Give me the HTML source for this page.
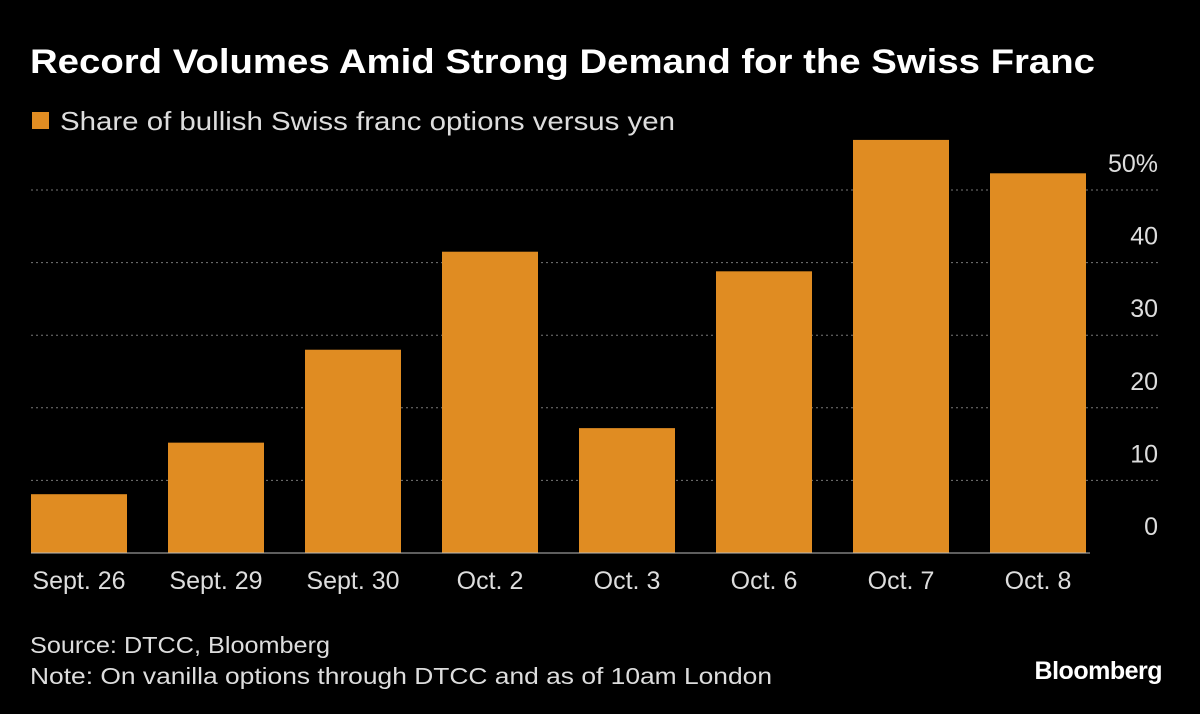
<!DOCTYPE html>
<html><head><meta charset="utf-8"><style>
body{margin:0;background:#000;width:1200px;height:714px;overflow:hidden;font-family:"Liberation Sans",sans-serif;color:#fff}
</style></head><body>
<svg width="1200" height="714" style="position:absolute;left:0;top:0">
<text x="30" y="73" font-size="34" font-weight="bold" fill="#fff" textLength="1065" lengthAdjust="spacingAndGlyphs">Record Volumes Amid Strong Demand for the Swiss Franc</text>
<rect x="32" y="112" width="17" height="17" fill="#e08c22"/>
<text x="60" y="130" font-size="26" fill="#ddd" textLength="615" lengthAdjust="spacingAndGlyphs">Share of bullish Swiss franc options versus yen</text>
<g id="grid"></g><g id="bars"></g><g id="labels"></g>
<text x="30" y="653" font-size="23" fill="#ddd" textLength="300" lengthAdjust="spacingAndGlyphs">Source: DTCC, Bloomberg</text>
<text x="30" y="684" font-size="23" fill="#ddd" textLength="742" lengthAdjust="spacingAndGlyphs">Note: On vanilla options through DTCC and as of 10am London</text>
<text x="1162" y="679" font-size="25" font-weight="bold" fill="#fff" text-anchor="end" letter-spacing="-0.5">Bloomberg</text>
</svg>
<script>
const categories=["Sept. 26","Sept. 29","Sept. 30","Oct. 2","Oct. 3","Oct. 6","Oct. 7","Oct. 8"];
const values=[8.1,15.2,28,41.5,17.2,38.8,56.9,52.3];
const ticks=[0,10,20,30,40,50];
const tickLabels=["0","10","20","30","40","50%"];
const NS="http://www.w3.org/2000/svg";
const y0=553,pxPer=7.26,left=31,step=137,bw=96;
const y=v=>y0-v*pxPer;
const x=i=>left+i*step;
const grid=document.getElementById('grid'),bars=document.getElementById('bars'),labels=document.getElementById('labels');
function mk(t,a){const e=document.createElementNS(NS,t);for(const k in a)e.setAttribute(k,a[k]);return e;}
ticks.forEach((t,i)=>{
 if(t>0){const l=mk('line',{x1:31,x2:1158,y1:y(t),y2:y(t),stroke:'#777','stroke-dasharray':'2,3','stroke-width':1});
 
 
 grid.appendChild(l);}
 const tx=mk('text',{x:1158,y:y(t)-18,'font-size':25,fill:'#ddd','text-anchor':'end'});
 tx.textContent=tickLabels[i];
 
 
 grid.appendChild(tx);
});
values.forEach((v,i)=>{
 const r=mk('rect',{x:x(i),y:y(v),width:bw,height:y0-y(v),fill:'#e08c22'});
 
 
 bars.appendChild(r);
 const t=mk('text',{x:x(i)+bw/2,y:589,'font-size':25,fill:'#ddd','text-anchor':'middle'});
 t.textContent=categories[i];
 
 
 labels.appendChild(t);
});
const b=mk('line',{x1:31,x2:1090,y1:y0,y2:y0,stroke:'#bbb','stroke-width':1});


bars.appendChild(b);
</script>
</body></html>
